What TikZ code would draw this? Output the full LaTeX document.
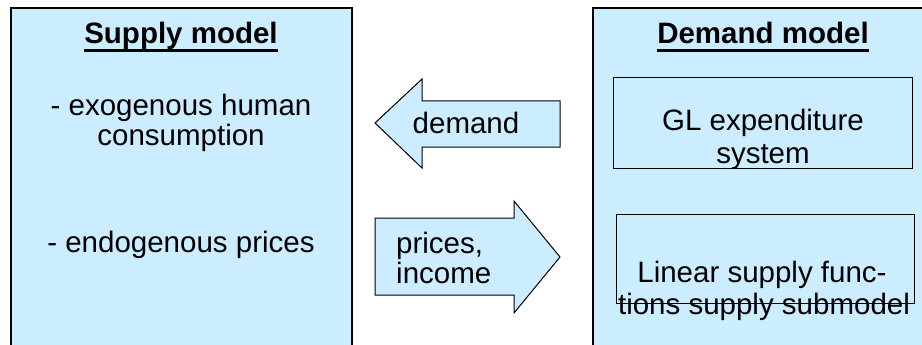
\documentclass[tikz,border=0pt]{standalone}
\usepackage{fontspec}
\setmainfont{Liberation Sans}
\usetikzlibrary{calc}
\definecolor{boxfill}{HTML}{CCECFF}
\tikzset{
  x=1pt,y=-1pt,
  bigbox/.style={draw=black,line width=1.4pt,fill=boxfill},
  innerbox/.style={draw=black,line width=1pt},
  arrowshape/.style={draw=black,line width=1pt,fill=boxfill,line join=miter},
  txt/.style={font=\fontsize{29.5}{32}\selectfont,anchor=base,inner sep=0pt},
  ttl/.style={font=\fontsize{29.5}{32}\selectfont\bfseries,anchor=base,inner sep=0pt},
  uline/.style={draw=black,line width=3pt},
}
\begin{document}
\begin{tikzpicture}
\useasboundingbox (0,0) rectangle (922,345);
\fill[white] (0,0) rectangle (922,345);
\begin{scope}
\clip (0,0) rectangle (922,345);
\draw[bigbox] (11,8) rectangle (352,360);
\draw[bigbox] (593,8) rectangle (940,360);
\end{scope}
\draw[innerbox] (613,78) rectangle (912,168);
\draw[innerbox] (616,214) rectangle (914,303);
\draw[arrowshape] (375,123) -- (422,79) -- (422,101) -- (560,101) -- (560,147) -- (422,147) -- (422,168) -- cycle;
\draw[arrowshape] (375,218) -- (514,218) -- (514,201) -- (560,257) -- (514,313) -- (514,295) -- (375,295) -- cycle;
\node[ttl] (st) at (181,44) {Supply model};
\draw[uline] ($(st.base west)+(0,7)$) -- ($(st.base east)+(0,7)$);
\node[txt] (s1) at (181,115) {- exogenous human};
\node[txt] (s2) at (181,146) {consumption};
\node[txt] (s3) at (181,252) {- endogenous prices};
\node[txt] (dm) at (466,133) {demand};
\node[txt,anchor=base west] (p1) at (396,253) {prices,};
\node[txt,anchor=base west] (p2) at (396,283) {income};
\node[ttl] (dt) at (763,44) {Demand model};
\draw[uline] ($(dt.base west)+(0,7)$) -- ($(dt.base east)+(0,7)$);
\node[txt] (g1) at (763,130) {GL expenditure};
\node[txt] (g2) at (763,164) {system};
\node[txt] (l1) at (762,282) {Linear supply func-};
\node[txt] (l2) at (764,314) {tions supply submodel};
\end{tikzpicture}
\end{document}
